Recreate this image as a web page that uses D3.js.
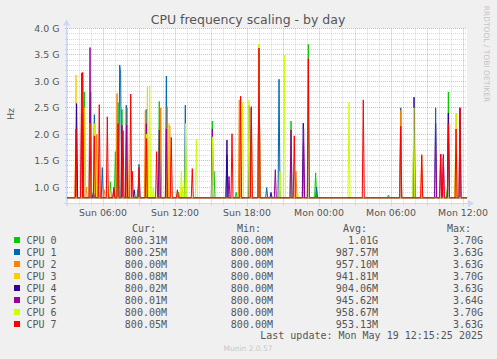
<!DOCTYPE html>
<html>
<head>
<meta charset="utf-8">
<script src="https://cdn.jsdelivr.net/npm/d3@7"></script>
<style>
	html, body { margin: 0; padding: 0; background: #f0f0f0; }
	svg { display: block; }
	text { font-family: "DejaVu Sans", sans-serif; fill: #555; }
	.mono { font-family: "DejaVu Sans Mono", monospace; }
</style>
</head>
<body>
<div id="chart"></div>
<script>
// spikes per cpu: [hours since Sun 00:00, GHz]; the rest of the time every cpu sits at 800 MHz
const baseGHz = 0.8;
const cpu0 = [[4.44, 2.8], [4.98, 2.8], [5.6, 1.0], [6.61, 1.1], [7.03, 1.67], [7.25, 2.6], [7.58, 2.47], [8.9, 0.95],
	[10.69, 2.62], [12.3, 0.9], [15.11, 2.25], [15.25, 1.3], [17.1, 0.9], [21.67, 2.25], [23.11, 3.7], [23.72, 1.27],
	[29.78, 0.85], [34.7, 1.0], [34.78, 2.8]];
const cpu1 = [[5.28, 2.37], [5.94, 1.37], [7.39, 3.31], [7.47, 3.15], [7.94, 2.55], [9.0, 1.43], [9.61, 2.47], [11.28, 3.1],
	[12.86, 2.55], [16.33, 1.6], [18.19, 2.55], [19.0, 3.63], [19.64, 0.99], [20.67, 3.04], [23.8, 1.0], [30.81, 2.5], [33.72, 2.5]];
const cpu2 = [[4.6, 1.0], [5.48, 2.0], [6.1, 0.95], [7.17, 2.77], [8.03, 2.5], [9.53, 2.45], [10.81, 2.5], [11.36, 2.52],
	[11.56, 2.16], [17.36, 2.65], [18.36, 2.52], [19.0, 3.63], [22.08, 1.3], [30.81, 2.45], [32.56, 1.62], [35.42, 2.2]];
const cpu3 = [[3.75, 3.12], [4.47, 2.5], [5.36, 2.2], [9.7, 2.9], [11.5, 2.2], [12.6, 1.0], [19.0, 3.7], [22.2, 0.9],
	[31.95, 2.4], [35.45, 2.4]];
const cpu4 = [[3.8, 2.58], [5.2, 0.9], [8.6, 0.95], [16.33, 1.89], [18.22, 2.5], [19.0, 3.63], [20.0, 0.9], [22.69, 2.21],
	[31.92, 2.7], [34.78, 2.4], [35.75, 2.5]];
const cpu5 = [[4.22, 2.4], [4.92, 3.64], [6.9, 0.95], [7.58, 2.17], [7.97, 2.17], [9.61, 2.2], [10.69, 2.08], [11.28, 2.1],
	[15.11, 2.1], [16.5, 1.2], [20.36, 1.33], [21.67, 2.08], [22.72, 2.1], [33.72, 2.2], [34.14, 1.62], [34.36, 1.62]];
const cpu6 = [[4.92, 2.2], [5.31, 2.2], [6.5, 1.0], [9.61, 2.0], [9.89, 2.92], [10.2, 1.0], [12.53, 1.3], [12.89, 2.2],
	[13.78, 1.9], [15.14, 1.95], [17.64, 2.6], [18.17, 2.65], [19.0, 3.7], [20.75, 1.3], [21.11, 3.5], [26.5, 2.6],
	[31.9, 2.5], [35.4, 2.4]];
const cpu7 = [[3.75, 2.1], [4.22, 3.16], [4.31, 3.17], [4.92, 2.2], [5.28, 1.97], [5.69, 2.56], [6.36, 2.33], [6.9, 1.0],
	[7.25, 2.2], [7.67, 2.07], [8.31, 2.76], [8.44, 1.3], [9.0, 1.37], [9.61, 1.92], [10.47, 1.67], [11.69, 1.94],
	[12.2, 0.95], [13.44, 1.35], [16.75, 2.01], [17.47, 2.72], [18.36, 2.52], [19.0, 3.63], [21.94, 1.97], [23.11, 3.43],
	[27.69, 2.65], [30.81, 2.15], [32.56, 1.6], [34.14, 1.62], [34.36, 1.55], [34.78, 2.2], [35.42, 2.1], [35.75, 2.5]];

const cpuNames = ["CPU 0", "CPU 1", "CPU 2", "CPU 3", "CPU 4", "CPU 5", "CPU 6", "CPU 7"];
const cpuSeries = [cpu0, cpu1, cpu2, cpu3, cpu4, cpu5, cpu6, cpu7];
const legendCur = ["800.31M", "800.25M", "800.00M", "800.08M", "800.02M", "800.01M", "800.00M", "800.05M"];
const legendMin = ["800.00M", "800.00M", "800.00M", "800.00M", "800.00M", "800.00M", "800.00M", "800.00M"];
const legendAvg = ["1.01G", "987.57M", "957.10M", "941.81M", "904.06M", "945.62M", "958.67M", "953.13M"];
const legendMax = ["3.70G", "3.63G", "3.63G", "3.70G", "3.63G", "3.64G", "3.70G", "3.63G"];
const yTicks = [1.0, 1.5, 2.0, 2.5, 3.0, 3.5, 4.0];
const timeStartHour = 3;        // Sun 03:00
const timeEndHour = 36 + 1 / 3; // Mon 12:20
const lastUpdate = "Last update: Mon May 19 12:15:25 2025";

const colors = ["#00cc00", "#0066b3", "#ff8000", "#ffcc00", "#330099", "#990099", "#ccff00", "#ff0000"];

{
	const W = 497, H = 359;
	const plot = { left: 67, right: 467, top: 28.5, bottom: 203.5 };
	const sunday = new Date(2025, 4, 18, 0, 0, 0);
	const toDate = h => new Date(sunday.getTime() + h * 3600e3);
	const step = 5 / 60;

	const svg = d3.select('#chart').append('svg')
		.attr('width', W)
		.attr('height', H);

	const x = d3.scaleTime()
		.domain([toDate(timeStartHour), toDate(timeEndHour)])
		.range([plot.left, plot.right]);
	const y = d3.scaleLinear()
		.domain([0.69, 4.0])
		.range([plot.bottom, plot.top]);

	// canvas
	svg.append('rect')
		.attr('x', plot.left).attr('y', plot.top)
		.attr('width', plot.right - plot.left).attr('height', plot.bottom - plot.top)
		.attr('fill', '#fff');

	const crisp = v => Math.round(v - 0.5) + 0.5;
	const grid = svg.append('g');
	const majorColor = 'rgba(235,130,130,0.65)', minorColor = 'rgba(195,195,195,0.65)';

	// horizontal grid, minor every 0.1G, major every 0.5G
	const hLines = d3.range(8, 41).map(d => d / 10);
	grid.selectAll('line.h')
		.data(hLines)
		.enter().append('line')
			.attr('x1', plot.left - 2).attr('x2', plot.right)
			.attr('y1', d => crisp(y(d))).attr('y2', d => crisp(y(d)))
			.attr('stroke', d => Math.round(d * 10) % 5 === 0 ? majorColor : minorColor)
			.attr('stroke-dasharray', '1,1');

	// vertical grid, minor every hour, major every 3 hours
	const hours = x.ticks(d3.timeHour.every(1));
	grid.selectAll('line.v')
		.data(hours)
		.enter().append('line')
			.attr('x1', d => crisp(x(d))).attr('x2', d => crisp(x(d)))
			.attr('y1', plot.top).attr('y2', d => plot.bottom + (d.getHours() % 3 === 0 ? 3 : 2))
			.attr('stroke', d => d.getHours() % 3 === 0 ? majorColor : minorColor)
			.attr('stroke-dasharray', '1,1');

	// series
	const line = d3.line()
		.x(d => x(toDate(d[0])))
		.y(d => y(d[1]));

	function seriesPoints(spikes) {
		const pts = [[timeStartHour, baseGHz]];
		let prev = null;
		spikes.slice().sort((a, b) => a[0] - b[0]).forEach(([h, v]) => {
			if (prev !== null && h - prev <= step + 1e-6) pts.pop();
			else if (prev === null || h - step > prev + step) pts.push([h - step, baseGHz]);
			pts.push([h, v], [h + step, baseGHz]);
			prev = h;
		});
		pts.push([timeEndHour, baseGHz]);
		return pts;
	}

	svg.append('g').selectAll('path')
		.data(cpuSeries)
		.enter().append('path')
			.attr('d', d => line(seriesPoints(d)))
			.attr('fill', 'none')
			.attr('stroke', (d, i) => colors[i])
			.attr('stroke-width', 1);

	// axes
	const axisColor = '#cfd6f8';
	svg.append('line')
		.attr('x1', plot.left - 0.5).attr('x2', plot.left - 0.5)
		.attr('y1', plot.bottom + 2).attr('y2', plot.top - 4)
		.attr('stroke', axisColor);
	svg.append('line')
		.attr('x1', plot.left - 3).attr('x2', plot.right + 2)
		.attr('y1', plot.bottom).attr('y2', plot.bottom)
		.attr('stroke', axisColor);
	svg.append('path')
		.attr('d', `M${plot.left - 4},${plot.top - 3} L${plot.left - 0.5},${plot.top - 9} L${plot.left + 3},${plot.top - 3} Z`)
		.attr('fill', axisColor);
	svg.append('path')
		.attr('d', `M${plot.right + 1},${plot.bottom - 3.5} L${plot.right + 7},${plot.bottom} L${plot.right + 1},${plot.bottom + 3.5} Z`)
		.attr('fill', axisColor);

	// y labels
	svg.append('g').selectAll('text')
		.data(yTicks)
		.enter().append('text')
			.attr('x', 59.5)
			.attr('y', d => y(d) + 3.4)
			.attr('text-anchor', 'end')
			.style('font-size', '9.4px')
			.text(d => d3.format('.1f')(d) + ' G');

	// x labels
	const fmt = d3.timeFormat('%a %H:%M');
	svg.append('g').selectAll('text')
		.data(x.ticks(d3.timeHour.every(6)).filter(d => x(d) > plot.left + 5))
		.enter().append('text')
			.attr('x', d => x(d))
			.attr('y', 216)
			.attr('text-anchor', 'middle')
			.style('font-size', '9.4px')
			.text(fmt);

	// title, unit, watermark
	svg.append('text')
		.attr('x', 248).attr('y', 24)
		.attr('text-anchor', 'middle')
		.style('font-size', '12.5px')
		.text('CPU frequency scaling - by day');
	svg.append('text')
		.attr('transform', 'translate(13.5,114) rotate(-90)')
		.attr('text-anchor', 'middle')
		.style('font-size', '9.5px')
		.text('Hz');
	svg.append('text')
		.attr('transform', 'translate(483.5,54) rotate(90)')
		.attr('text-anchor', 'middle')
		.style('font-size', '7.5px')
		.style('fill', '#c4c4c4')
		.text('RRDTOOL / TOBI OETIKER');

	// legend
	const legend = svg.append('g').attr('class', 'legend');
	const headers = [["Cur:", 132], ["Min:", 237], ["Avg:", 343], ["Max:", 447]];
	legend.selectAll('text.head')
		.data(headers)
		.enter().append('text')
			.attr('class', 'mono')
			.attr('x', d => d[1]).attr('y', 231.5)
			.style('font-size', '10px')
			.text(d => d[0]);

	const rows = legend.selectAll('g.row')
		.data(cpuNames)
		.enter().append('g')
			.attr('transform', (d, i) => `translate(0,${240 + i * 12})`);
	rows.append('rect')
		.attr('x', 14).attr('y', -3)
		.attr('width', 6).attr('height', 6)
		.attr('fill', (d, i) => colors[i]);
	rows.append('text')
		.attr('class', 'mono')
		.attr('x', 26.5).attr('y', 3.6)
		.style('font-size', '10px')
		.text(d => d);
	const cols = [[legendCur, 167], [legendMin, 273], [legendAvg, 378], [legendMax, 483]];
	cols.forEach(([vals, right]) => {
		rows.append('text')
			.attr('class', 'mono')
			.attr('x', right).attr('y', 3.6)
			.attr('text-anchor', 'end')
			.style('font-size', '10px')
			.text((d, i) => vals[i]);
	});

	legend.append('text')
		.attr('class', 'mono')
		.attr('x', 483).attr('y', 339.3)
		.attr('text-anchor', 'end')
		.style('font-size', '10px')
		.text(lastUpdate);

	svg.append('text')
		.attr('x', 248).attr('y', 350.5)
		.attr('text-anchor', 'middle')
		.style('font-size', '7.5px')
		.style('fill', '#c8c8c8')
		.text('Munin 2.0.57');
}
</script>
</body>
</html>
